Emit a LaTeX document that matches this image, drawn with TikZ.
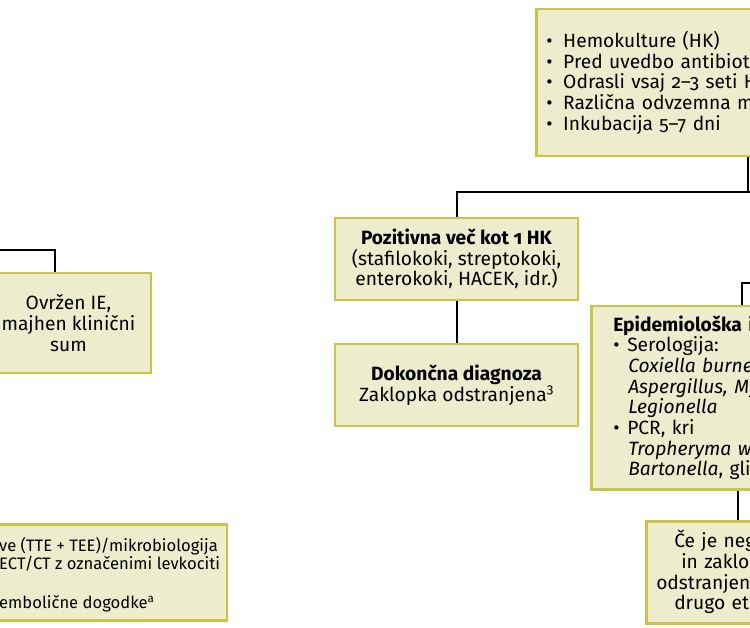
\documentclass[tikz,border=0pt]{standalone}
\usepackage{fontspec}
\setmainfont{Fira Sans}[Numbers=OldStyle]
\definecolor{oliva}{RGB}{201,197,72}
\definecolor{krem}{RGB}{237,236,204}
\newcommand{\tocka}[1][16pt]{\makebox[#1][l]{\textbullet}}
\tikzset{
	kvadrat/.style={draw=oliva,fill=krem,line width=2.5pt,inner ysep=0pt,
		font=\fontsize{19.2}{20.7}\selectfont},
	povezava/.style={line width=2pt,black},
}

\begin{document}
\begin{tikzpicture}[x=1pt,y=-1pt]
	\useasboundingbox (0,0) rectangle (750,628);
	\clip (0,0) rectangle (750,628);

	% zgoraj desno
	\node[kvadrat,anchor=north west,text width=280pt,inner xsep=10pt,minimum height=147pt,align=left] (hk) at (535,8)
		{\tocka[17pt]Hemokulture (HK)\\ \tocka[17pt]Pred uvedbo antibiotikov\\ \tocka[17pt]Odrasli vsaj 2--3 seti HK\\
		 \tocka[17pt]Različna odvzemna mesta\\ \tocka[17pt]Inkubacija 5--7 dni};

	\node[kvadrat,minimum width=243pt,minimum height=82pt,align=center] (pos) at (456.5,259)
		{\textbf{Pozitivna več kot 1 HK}\\ (stafilokoki, streptokoki,\\ enterokoki, HACEK, idr.)};
	\node[kvadrat,minimum width=243pt,minimum height=82pt,align=center] (dok) at (456.5,385)
		{\textbf{Dokončna diagnoza}\\ Zaklopka odstranjena\textsuperscript{3}};

	\node[kvadrat,anchor=north west,text width=256pt,inner xsep=22pt,minimum height=183pt,align=left] (epi) at (590,305)
		{\textbf{Epidemiološka iskanja}\\ \tocka[14pt]Serologija:\\
		 \hspace*{15pt}\textit{Coxiella burnetii, Brucella,}\\ \hspace*{15pt}\textit{Aspergillus, Mycoplasma,}\\
		 \hspace*{15pt}\textit{Legionella}\\ \tocka[14pt]PCR, kri\\
		 \hspace*{15pt}\textit{Tropheryma whipplei,}\\ \hspace*{15pt}\textit{Bartonella}, glive};

	\node[kvadrat,anchor=north west,text width=280pt,inner xsep=10pt,minimum height=102pt,align=left] (ce) at (645,520)
		{\hspace*{18pt}Če je negativno\\ \hspace*{25pt}in zaklopka\\ odstranjena, pomisli na\\ \hspace*{18pt}drugo etiologijo};

	% levo
	\node[kvadrat,minimum width=165pt,minimum height=100pt,align=center] (ovr) at (68.5,323)
		{Ovržen IE,\\ majhen klinični\\ sum};

	\node[kvadrat,anchor=north east,minimum width=400pt,minimum height=96pt] (bl) at (228,523) {};
	\node[anchor=north west,align=left,inner sep=0pt,font=\fontsize{16.6}{14}\selectfont] (bltxt) at (-1,537)
		{ve (TTE + TEE)/mikrobiologija\\ ECT/CT z označenimi levkociti\\[24pt] embolične dogodke\textsuperscript{a}};

	% povezave
	\coordinate (hkrazc) at (748,192);
	\coordinate (hkdesno) at (800,192);
	\draw[povezava] (hk.south -| hkrazc) -- (hkrazc) -- (hkrazc -| pos.north) -- (pos.north);
	\draw[povezava] (hkrazc) -- (hkdesno);
	\draw[povezava] (pos.south) -- (dok.north);

	\coordinate (epirazc) at (742,283);
	\coordinate (epidesno) at (800,283);
	\draw[povezava] (epidesno) -- (epirazc) -- (epirazc |- epi.north);
	\coordinate (cex) at (738,0);
	\draw[povezava] (cex |- epi.south) -- (cex |- ce.north);

	\coordinate (ovrrazc) at (55,250);
	\coordinate (ovrlevo) at (-20,250);
	\draw[povezava] (ovrlevo) -- (ovrrazc) -- (ovrrazc |- ovr.north);
\end{tikzpicture}
\end{document}
